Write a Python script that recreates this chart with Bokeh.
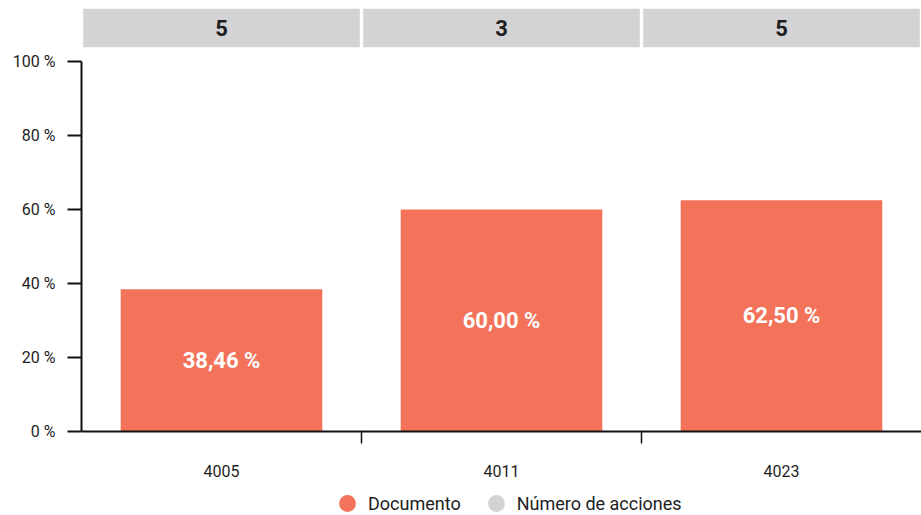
from bokeh.plotting import figure
from bokeh.models import (ColumnDataSource, Range1d, FixedTicker, LinearAxis, Legend, LegendItem,
                          CustomJSTickFormatter)
from bokeh.core.properties import value
from bokeh.embed import file_html
from bokeh.resources import INLINE

categories = ["4005", "4011", "4023"]
documento = [38.46, 60.00, 62.50]
acciones = [5, 3, 5]
y_ticks = [0, 20, 40, 60, 80, 100]

FONT = "Roboto"
n = len(categories)
centers = [i + 0.5 for i in range(n)]
BAR_COLOR = "#f2735a"
HEAD_COLOR = "#d3d3d5"
TXT = "#1e1e1e"
NAN = float("nan")

p = figure(frame_width=840, frame_height=507, output_backend="svg", toolbar_location=None,
           x_range=Range1d(0, n), y_range=Range1d(-22.7, 114.3),
           min_border_left=81, min_border_right=0, min_border_top=8, min_border_bottom=0)
p.outline_line_color = None
p.grid.visible = False
p.xaxis.visible = False
p.yaxis.visible = False

# bars
bar_src = ColumnDataSource(dict(x=centers, top=documento,
                                lab=[f"{v:.2f}".replace(".", ",") + " %" for v in documento],
                                mid=[v / 2 for v in documento]))
p.vbar(x="x", top="top", bottom=0, width=0.72, source=bar_src,
       fill_color=BAR_COLOR, line_color=None)
p.text(x="x", y="mid", text="lab", source=bar_src, text_align="center", text_baseline="middle",
       text_color="white", text_font=value(FONT), text_font_size="22px", text_font_style="bold")

# header band
head_src = ColumnDataSource(dict(left=[i + 0.006 for i in range(n)], right=[i + 1 - 0.006 for i in range(n)],
                                 x=centers, lab=[str(a) for a in acciones]))
p.quad(left="left", right="right", bottom=103.8, top=114.3, source=head_src,
       fill_color=HEAD_COLOR, line_color=None)
p.text(x="x", y=109.05, text="lab", source=head_src, text_align="center", text_baseline="middle",
       text_color=TXT, text_font=value(FONT), text_font_size="22px", text_font_style="bold")

# legend proxies (not drawn in the plot: NaN position)
leg_doc = p.scatter(x=[NAN], y=[NAN], marker="circle", size=17, fill_color=BAR_COLOR, line_color=None)
leg_acc = p.scatter(x=[NAN], y=[NAN], marker="circle", size=17, fill_color=HEAD_COLOR, line_color=None)

# y axis
ya = LinearAxis(ticker=FixedTicker(ticks=y_ticks), bounds=(0, 100))
ya.formatter = CustomJSTickFormatter(code="return tick + ' %'")
ya.axis_line_width = 2
ya.axis_line_color = "#111111"
ya.major_tick_line_width = 2
ya.major_tick_line_color = "#111111"
ya.major_tick_out = 14
ya.major_tick_in = 0
ya.minor_tick_line_color = None
ya.major_label_standoff = 12
ya.major_label_text_font = FONT
ya.major_label_text_font_size = "16px"
ya.major_label_text_color = TXT
p.add_layout(ya, "left")

# x axis at y = 0 with boundary ticks
xa = LinearAxis(ticker=FixedTicker(ticks=[float(i) for i in range(1, n)]), fixed_location=0)
xa.major_label_overrides = {float(i): "" for i in range(1, n)}
xa.major_label_text_font_size = "1px"
xa.axis_line_width = 2
xa.axis_line_color = "#111111"
xa.major_tick_line_color = "#111111"
xa.major_tick_line_width = 1.5
xa.major_tick_out = 12
xa.major_tick_in = 0
xa.minor_tick_line_color = None
xa.major_label_standoff = 0
p.add_layout(xa, "below")

# category labels axis at y = 0
xl = LinearAxis(ticker=FixedTicker(ticks=centers), fixed_location=0)
xl.major_label_overrides = {c: cat for c, cat in zip(centers, categories)}
xl.axis_line_color = None
xl.major_tick_line_color = None
xl.major_tick_out = 0
xl.major_tick_in = 0
xl.minor_tick_line_color = None
xl.major_label_standoff = 34
xl.major_label_text_font = FONT
xl.major_label_text_font_size = "16px"
xl.major_label_text_color = TXT
p.add_layout(xl, "below")

legend = Legend(items=[LegendItem(label="Documento", renderers=[leg_doc]),
                       LegendItem(label="Número de acciones", renderers=[leg_acc])],
                orientation="horizontal", location=(245, -9),
                label_text_font=FONT, label_text_font_size="18px", label_text_color=TXT,
                label_standoff=0, glyph_width=42, glyph_height=42, spacing=14, padding=0, margin=0,
                border_line_color=None, background_fill_alpha=0)
p.add_layout(legend, "center")

open("out.html", "w").write(file_html(p, INLINE))
